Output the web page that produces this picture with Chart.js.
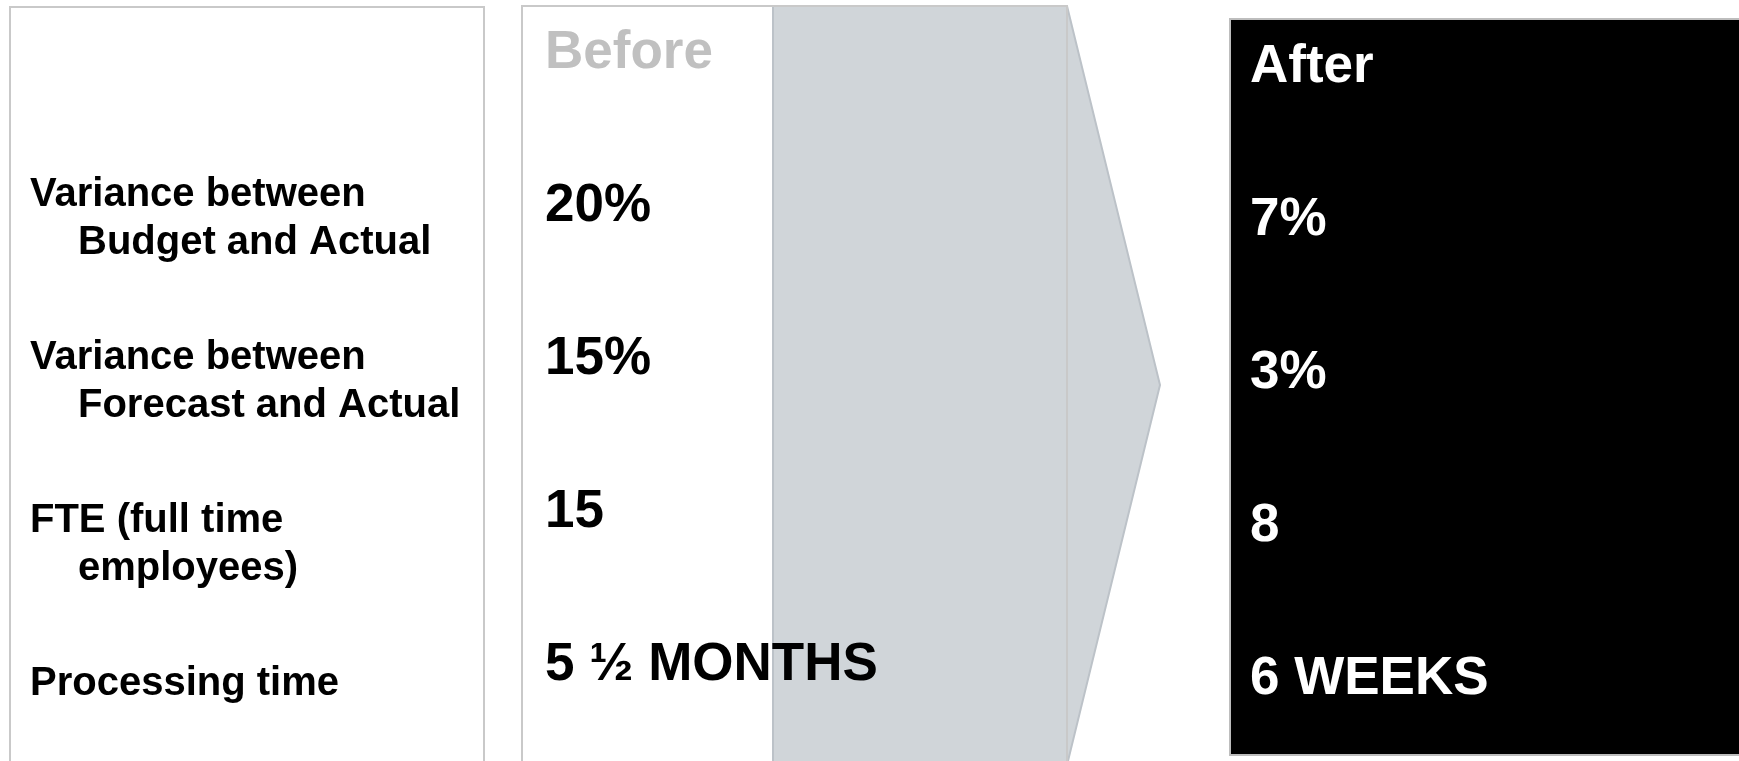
<!DOCTYPE html>
<html>
<head>
<meta charset="utf-8">
<script src="https://cdn.jsdelivr.net/npm/chart.js@4.4.0/dist/chart.umd.min.js"></script>
<style>
  html, body { margin: 0; padding: 0; background: #ffffff; overflow: hidden; }
  #board { display: block; }
</style>
</head>
<body>
<canvas id="board" width="1739" height="761"></canvas>
<script>
// Data
const metrics = [
    ['Variance between', 'Budget and Actual'],
    ['Variance between', 'Forecast and Actual'],
    ['FTE (full time', 'employees)'],
    ['Processing time']
];
const columnTitles = ['Before', 'After'];
const beforeValues = ['20%', '15%', '15', '5 ½ MONTHS'];
const afterValues = ['7%', '3%', '8', '6 WEEKS'];

// Layout (pixels)
const W = 1739, H = 761;
const colX = { label: 30, before: 545, after: 1250 };
const labelIndent = 48;
const labelLineHeight = 48;

const FONT = '"Liberation Sans", Arial, sans-serif';

// rows: 0 = header, 1..4 = metrics
// each column gets its own hidden y scale, so rows sit where the boxes want them
function rowScale(firstPx, pitch) {
    const range = H / pitch;
    const min = -firstPx / pitch;
    return { type: 'linear', display: false, reverse: true, min: min, max: min + range };
}

const labelPoints = metrics.map((m, i) => ({ x: colX.label, y: i + 1 }));
const beforePoints = [columnTitles[0], ...beforeValues].map((v, i) => ({ x: colX.before, y: i }));
const afterPoints = [columnTitles[1], ...afterValues].map((v, i) => ({ x: colX.after, y: i }));

const boxesPlugin = {
    id: 'boxes',
    beforeDatasetsDraw(chart) {
        const ctx = chart.ctx;
        ctx.save();
        ctx.lineWidth = 2;

        // left label box
        ctx.strokeStyle = '#c9c9c9';
        ctx.strokeRect(10, 7, 474, H + 20);

        // grey arrow behind the "Before" column
        ctx.beginPath();
        ctx.moveTo(773, 6);
        ctx.lineTo(1067, 6);
        ctx.lineTo(1160, 385);
        ctx.lineTo(1067, H + 4);
        ctx.lineTo(773, H + 4);
        ctx.closePath();
        ctx.fillStyle = '#d0d5d9';
        ctx.fill();
        ctx.strokeStyle = '#bcc2c8';
        ctx.stroke();

        // before box outline
        ctx.strokeStyle = '#c9c9c9';
        ctx.strokeRect(522, 6, 545, H + 20);

        // after box
        ctx.fillStyle = '#000000';
        ctx.fillRect(1230, 19, W, 736);
        ctx.strokeStyle = '#bdbdbd';
        ctx.strokeRect(1230, 19, W, 736);
        ctx.restore();
    }
};

const textPlugin = {
    id: 'texts',
    afterDatasetsDraw(chart) {
        const ctx = chart.ctx;
        ctx.save();
        ctx.textBaseline = 'middle';
        ctx.textAlign = 'left';

        // metric labels
        ctx.font = 'bold 40px ' + FONT;
        ctx.fillStyle = '#000000';
        chart.getDatasetMeta(0).data.forEach((pt, i) => {
            metrics[i].forEach((line, j) => {
                ctx.fillText(line, pt.x + (j > 0 ? labelIndent : 0), pt.y + j * labelLineHeight);
            });
        });

        ctx.font = 'bold 53px ' + FONT;
        // before column
        chart.getDatasetMeta(1).data.forEach((pt, i) => {
            ctx.fillStyle = i === 0 ? '#c0c0c0' : '#000000';
            ctx.fillText(i === 0 ? columnTitles[0] : beforeValues[i - 1], pt.x, pt.y);
        });
        // after column
        ctx.fillStyle = '#ffffff';
        chart.getDatasetMeta(2).data.forEach((pt, i) => {
            ctx.fillText(i === 0 ? columnTitles[1] : afterValues[i - 1], pt.x, pt.y);
        });
        ctx.restore();
    }
};

const board = new Chart(document.getElementById('board').getContext('2d'), {
    type: 'scatter',
    data: {
        datasets: [
            { label: 'Metric', data: labelPoints, yAxisID: 'yLabel', pointRadius: 0 },
            { label: 'Before', data: beforePoints, yAxisID: 'yBefore', pointRadius: 0 },
            { label: 'After', data: afterPoints, yAxisID: 'yAfter', pointRadius: 0 }
        ]
    },
    options: {
        responsive: false,
        animation: false,
        events: [],
        layout: { padding: 0 },
        plugins: { legend: { display: false }, tooltip: { enabled: false } },
        scales: {
            x: { type: 'linear', display: false, min: 0, max: W },
            yLabel: rowScale(32, 163),
            yBefore: rowScale(53, 153),
            yAfter: rowScale(67, 153)
        }
    },
    plugins: [boxesPlugin, textPlugin]
});
</script>
</body>
</html>
